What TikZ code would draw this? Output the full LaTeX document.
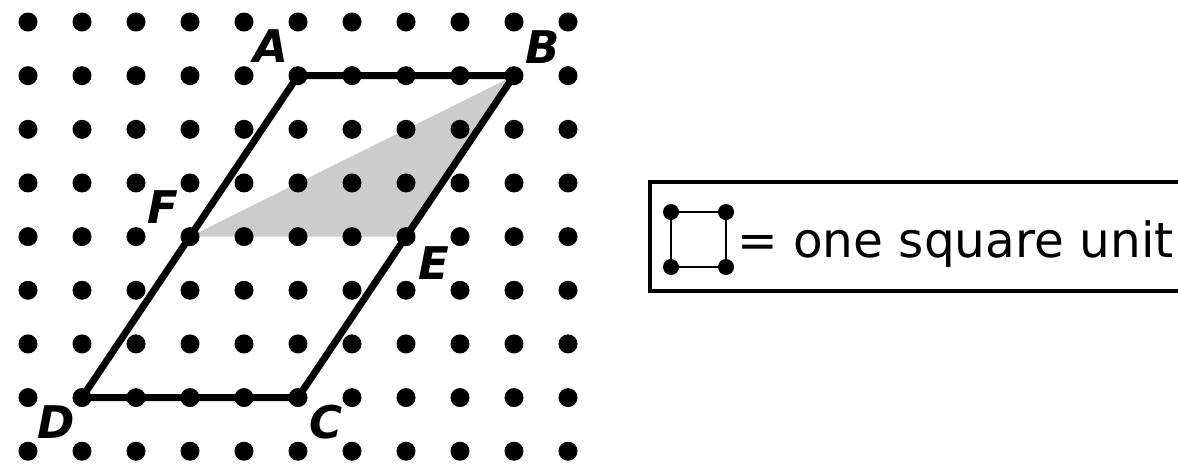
\documentclass[tikz,border=0pt]{standalone}
\usepackage{fontspec}
\setmainfont{DejaVu Sans}
\begin{document}
\begin{tikzpicture}[x=1pt,y=-1pt,
  gdot/.style={fill=black},
  edge/.style={line width=7pt,line join=round,line cap=round},
  lbl/.style={font=\fontsize{45}{45}\bfseries\itshape\selectfont,inner sep=0pt},
  shade/.style={fill=black!20}]
\useasboundingbox (0,0) rectangle (1178,467);
% vertices
\coordinate (A) at ({28+54*5},{22+53.65*1});
\coordinate (B) at ({28+54*9},{22+53.65*1});
\coordinate (C) at ({28+54*5},{22+53.65*7});
\coordinate (D) at ({28+54*1},{22+53.65*7});
\coordinate (E) at ({28+54*7},{22+53.65*4});
\coordinate (F) at ({28+54*3},{22+53.65*4});
% shaded triangle
\fill[shade] (F) -- (B) -- (E) -- cycle;
% dot grid
\foreach \i in {0,...,10}{
  \foreach \j in {0,...,8}{
    \fill[gdot] ({28+54*\i},{22+53.65*\j}) circle (9.5);
  }
}
% parallelogram
\draw[edge] (A) -- (B) -- (C) -- (D) -- cycle;
% labels
\node[lbl] (lA) at (271,46) {A};
\node[lbl] (lB) at (543,47) {B};
\node[lbl] (lF) at (163,207) {F};
\node[lbl] (lE) at (434,263) {E};
\node[lbl] (lD) at (56,422) {D};
\node[lbl] (lC) at (326,422) {C};
% legend
\draw[line width=4pt] (1180,182) -- (650,182) -- (650,291) -- (1180,291);
\coordinate (q1) at (671,212);
\coordinate (q2) at (726,212);
\coordinate (q3) at (726,267);
\coordinate (q4) at (671,267);
\draw[line width=1.8pt] (q1) -- (q2) -- (q3) -- (q4) -- cycle;
\foreach \p in {q1,q2,q3,q4}{\fill (\p) circle (8);}
\node[anchor=base west,inner sep=0pt,font=\fontsize{48.5}{48.5}\selectfont] (leg) at (737,257) {= one square unit};
\end{tikzpicture}
\end{document}
